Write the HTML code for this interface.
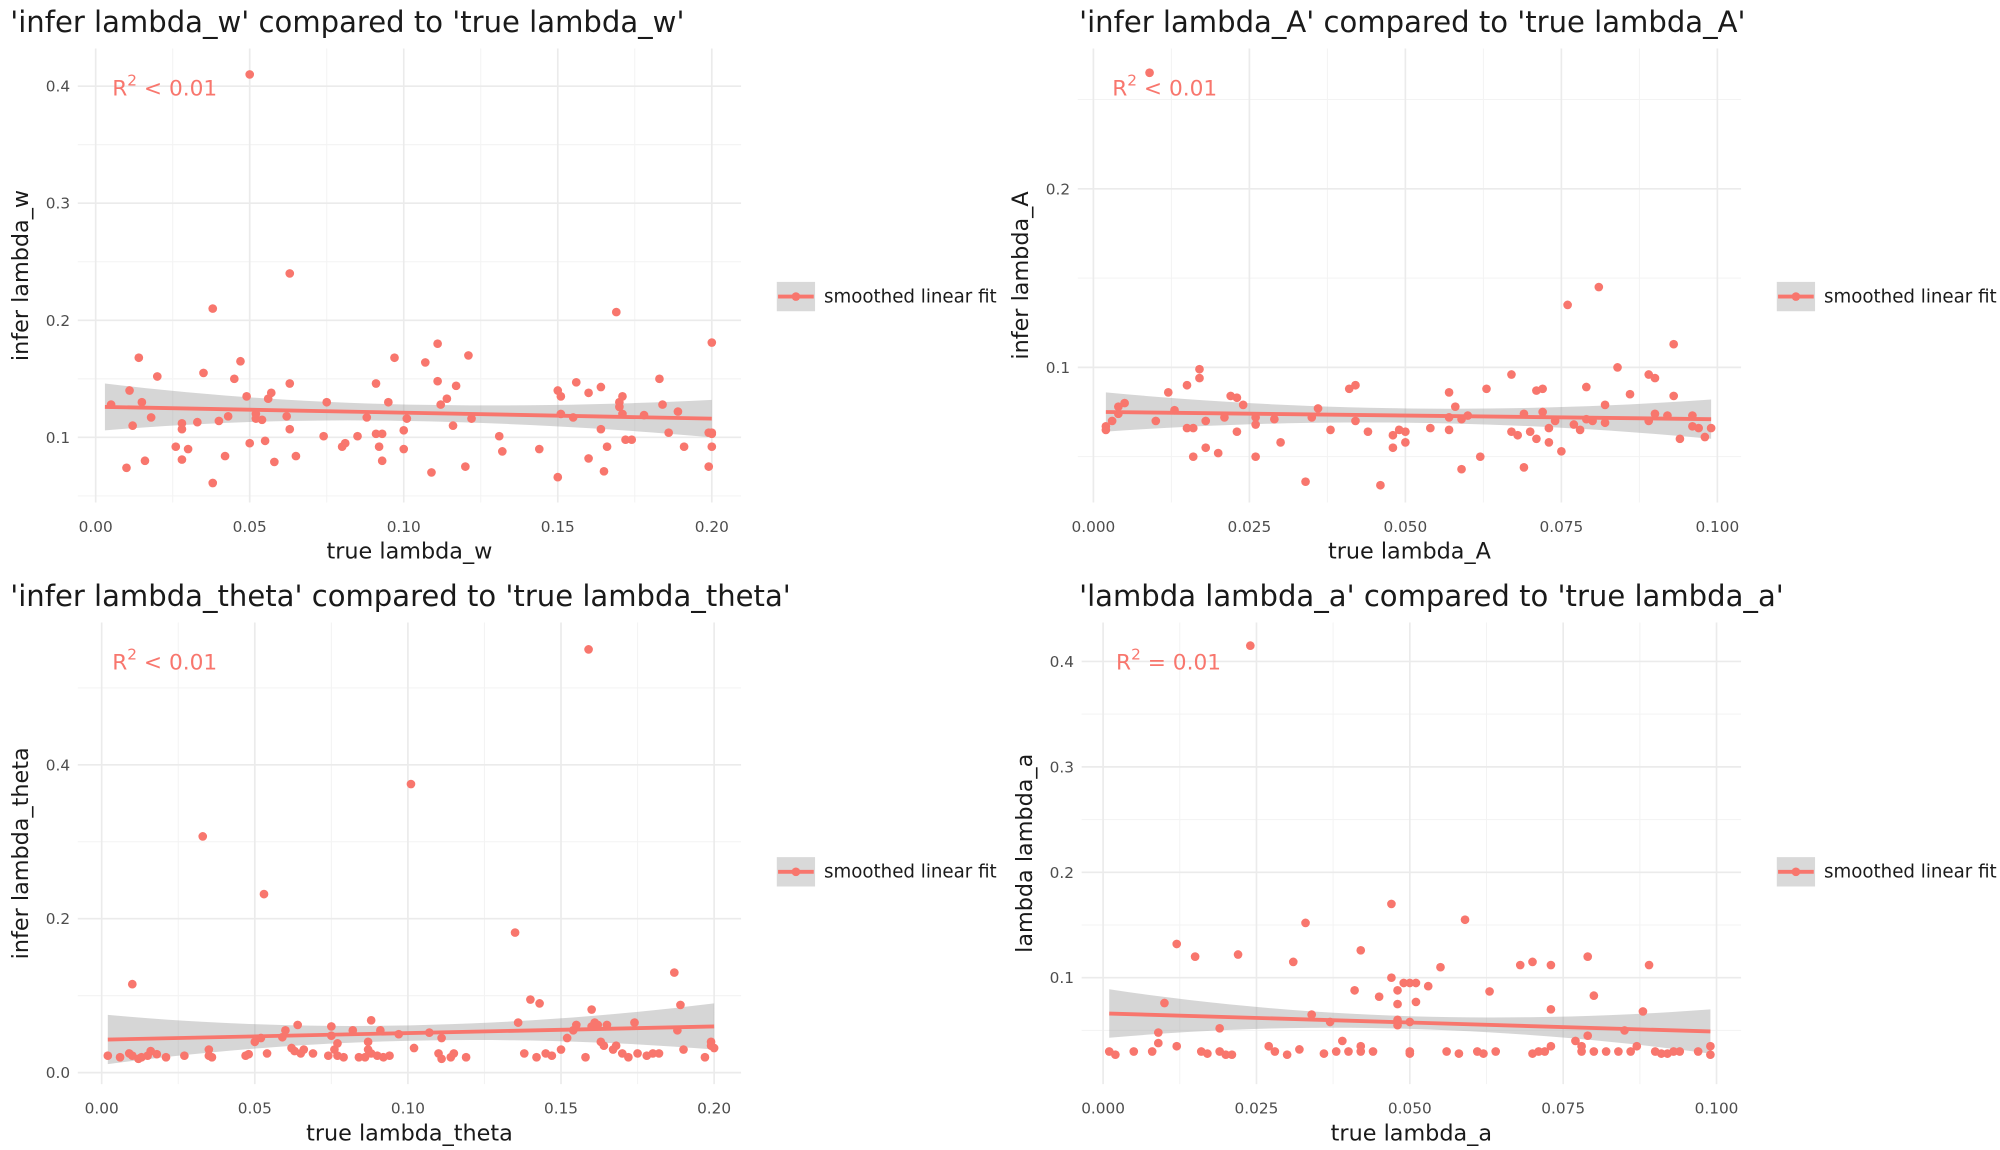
<!DOCTYPE html>
<html><head><meta charset="utf-8"><style>
html,body{margin:0;padding:0;background:#fff;}
svg{display:block;font-family:"DejaVu Sans","Liberation Sans",sans-serif;}
</style></head><body>
<svg id="chart" width="2000" height="1150" viewBox="0 0 1568 901.6" xmlns="http://www.w3.org/2000/svg">
<rect width="1568" height="901.6" fill="#fff"/>
</svg>
<script>
// ---- data ----
const p1x=[0.005,0.011,0.012,0.010,0.014,0.015,0.016,0.018,0.020,0.026,0.028,0.028,0.028,0.030,0.033,0.035,0.038,0.038,0.040,0.042,0.043,0.045,0.047,0.049,0.050,0.050,0.052,0.052,0.054,0.055,0.056,0.057,0.058,0.062,0.063,0.063,0.063,0.065,0.074,0.075,0.080,0.081,0.085,0.088,0.091,0.091,0.092,0.093,0.093,0.095,0.097,0.100,0.100,0.101,0.107,0.109,0.111,0.111,0.112,0.114,0.116,0.117,0.120,0.121,0.122,0.131,0.132,0.144,0.150,0.150,0.151,0.151,0.155,0.156,0.160,0.160,0.164,0.164,0.165,0.166,0.169,0.170,0.170,0.171,0.171,0.172,0.174,0.178,0.183,0.184,0.186,0.189,0.191,0.199,0.200,0.199,0.200,0.200,0.200];
const p1y=[0.128,0.140,0.110,0.074,0.168,0.130,0.080,0.117,0.152,0.092,0.112,0.107,0.081,0.090,0.113,0.155,0.210,0.061,0.114,0.084,0.118,0.150,0.165,0.135,0.095,0.410,0.120,0.116,0.115,0.097,0.133,0.138,0.079,0.118,0.240,0.146,0.107,0.084,0.101,0.130,0.092,0.095,0.101,0.117,0.146,0.103,0.092,0.080,0.103,0.130,0.168,0.090,0.106,0.116,0.164,0.070,0.180,0.148,0.128,0.133,0.110,0.144,0.075,0.170,0.116,0.101,0.088,0.090,0.066,0.140,0.120,0.135,0.117,0.147,0.082,0.138,0.107,0.143,0.071,0.092,0.207,0.126,0.130,0.135,0.120,0.098,0.098,0.119,0.150,0.128,0.104,0.122,0.092,0.104,0.103,0.075,0.092,0.181,0.104];
const p2x=[0.002,0.002,0.003,0.004,0.004,0.005,0.009,0.010,0.012,0.013,0.015,0.015,0.016,0.016,0.017,0.017,0.018,0.018,0.020,0.021,0.022,0.023,0.023,0.024,0.026,0.026,0.026,0.029,0.030,0.034,0.035,0.036,0.038,0.041,0.042,0.042,0.044,0.046,0.048,0.048,0.049,0.050,0.050,0.054,0.057,0.057,0.057,0.058,0.059,0.059,0.060,0.062,0.063,0.067,0.067,0.068,0.069,0.069,0.070,0.071,0.071,0.072,0.072,0.073,0.073,0.074,0.075,0.076,0.077,0.078,0.079,0.079,0.080,0.081,0.082,0.082,0.084,0.086,0.089,0.089,0.090,0.090,0.092,0.093,0.093,0.094,0.096,0.096,0.097,0.098,0.099];
const p2y=[0.065,0.067,0.070,0.074,0.078,0.080,0.265,0.070,0.086,0.076,0.090,0.066,0.066,0.050,0.099,0.094,0.070,0.055,0.052,0.072,0.084,0.083,0.064,0.079,0.050,0.068,0.072,0.071,0.058,0.036,0.072,0.077,0.065,0.088,0.090,0.070,0.064,0.034,0.062,0.055,0.065,0.058,0.064,0.066,0.086,0.065,0.072,0.078,0.071,0.043,0.073,0.050,0.088,0.096,0.064,0.062,0.074,0.044,0.064,0.087,0.060,0.075,0.088,0.058,0.066,0.070,0.053,0.135,0.068,0.065,0.089,0.071,0.070,0.145,0.079,0.069,0.100,0.085,0.070,0.096,0.094,0.074,0.073,0.113,0.084,0.060,0.073,0.067,0.066,0.061,0.066];
const p3x=[0.002,0.006,0.009,0.010,0.010,0.012,0.013,0.015,0.016,0.018,0.021,0.027,0.033,0.035,0.035,0.036,0.047,0.048,0.050,0.052,0.053,0.054,0.059,0.060,0.062,0.063,0.064,0.065,0.066,0.069,0.074,0.075,0.075,0.076,0.077,0.077,0.079,0.082,0.084,0.086,0.087,0.087,0.088,0.088,0.090,0.091,0.092,0.094,0.097,0.101,0.102,0.107,0.110,0.111,0.111,0.114,0.115,0.119,0.135,0.136,0.138,0.140,0.142,0.143,0.145,0.147,0.150,0.152,0.154,0.155,0.158,0.159,0.160,0.160,0.161,0.162,0.163,0.164,0.165,0.167,0.168,0.170,0.172,0.174,0.175,0.178,0.180,0.182,0.187,0.188,0.189,0.190,0.197,0.199,0.199,0.200];
const p3y=[0.022,0.020,0.025,0.115,0.022,0.018,0.020,0.022,0.028,0.024,0.020,0.022,0.307,0.030,0.022,0.020,0.022,0.024,0.040,0.045,0.232,0.025,0.046,0.055,0.032,0.028,0.062,0.025,0.030,0.025,0.022,0.060,0.048,0.030,0.038,0.022,0.020,0.055,0.020,0.020,0.040,0.030,0.068,0.025,0.022,0.055,0.020,0.022,0.050,0.375,0.032,0.052,0.025,0.045,0.018,0.020,0.025,0.020,0.182,0.065,0.025,0.095,0.020,0.090,0.025,0.022,0.030,0.045,0.055,0.062,0.020,0.550,0.082,0.060,0.065,0.062,0.040,0.035,0.062,0.030,0.035,0.025,0.020,0.065,0.025,0.022,0.025,0.025,0.130,0.055,0.088,0.030,0.020,0.040,0.035,0.032];
const p4x=[0.001,0.002,0.005,0.008,0.009,0.009,0.010,0.012,0.012,0.015,0.016,0.017,0.019,0.019,0.020,0.021,0.022,0.024,0.027,0.028,0.030,0.031,0.032,0.033,0.034,0.036,0.037,0.038,0.039,0.040,0.041,0.042,0.042,0.042,0.044,0.045,0.047,0.047,0.048,0.048,0.048,0.048,0.049,0.050,0.050,0.050,0.050,0.051,0.051,0.053,0.055,0.056,0.058,0.059,0.061,0.062,0.063,0.064,0.068,0.070,0.070,0.071,0.072,0.073,0.073,0.073,0.077,0.078,0.078,0.079,0.079,0.080,0.080,0.082,0.084,0.085,0.086,0.087,0.088,0.089,0.090,0.091,0.092,0.093,0.094,0.097,0.099,0.099];
const p4y=[0.030,0.027,0.030,0.030,0.048,0.038,0.076,0.132,0.035,0.120,0.030,0.028,0.030,0.052,0.027,0.027,0.122,0.415,0.035,0.030,0.027,0.115,0.032,0.152,0.065,0.028,0.058,0.030,0.040,0.030,0.088,0.035,0.030,0.126,0.030,0.082,0.170,0.100,0.055,0.060,0.075,0.088,0.095,0.028,0.030,0.095,0.058,0.095,0.077,0.092,0.110,0.030,0.028,0.155,0.030,0.028,0.087,0.030,0.112,0.115,0.028,0.030,0.030,0.070,0.035,0.112,0.040,0.030,0.035,0.120,0.045,0.083,0.030,0.030,0.030,0.050,0.030,0.035,0.068,0.112,0.030,0.028,0.028,0.030,0.030,0.030,0.027,0.035];
const p1fit=[0.126,0.116], p1band=[0.020,0.007,0.016];
const p2fit=[0.075,0.071], p2band=[0.011,0.004,0.011];
const p3fit=[0.043,0.060], p3band=[0.032,0.010,0.030];
const p4fit=[0.066,0.049], p4band=[0.023,0.006,0.021];
const p1xt=[0,0.05,0.10,0.15,0.20], p1xl=["0.00","0.05","0.10","0.15","0.20"];
const p1yt=[0.1,0.2,0.3,0.4], p1yl=["0.1","0.2","0.3","0.4"];
const p2xt=[0,0.025,0.05,0.075,0.1], p2xl=["0.000","0.025","0.050","0.075","0.100"];
const p2yt=[0.1,0.2], p2yl=["0.1","0.2"];
const p3xt=p1xt, p3xl=p1xl;
const p3yt=[0,0.2,0.4], p3yl=["0.0","0.2","0.4"];
const p4xt=p2xt, p4xl=p2xl;
const p4yt=[0.1,0.2,0.3,0.4], p4yl=["0.1","0.2","0.3","0.4"];

const NS="http://www.w3.org/2000/svg";
const svg=document.getElementById('chart');
function mk(tag,attrs,parent){const e=document.createElementNS(NS,tag);for(const k in attrs)e.setAttribute(k,attrs[k]);(parent||svg).appendChild(e);return e;}

const panels=[
 {id:'p1',title:"'infer lambda_w' compared to 'true lambda_w'",xt:'true lambda_w',yt:'infer lambda_w',r2:'< 0.01',
  box:[61,38,581,394],xd:[-0.0058,0.2095],yd:[0.0443,0.4322],x:p1x,y:p1y,fit:p1fit,band:p1band,xr:[0.003,0.2],xtk:p1xt,xlb:p1xl,ytk:p1yt,ylb:p1yl,tx:8,ty:25,leg:[609,221]},
 {id:'p2',title:"'infer lambda_A' compared to 'true lambda_A'",xt:'true lambda_A',yt:'infer lambda_A',r2:'< 0.01',
  box:[845,38,1365,394],xd:[-0.0025,0.1038],yd:[0.0243,0.2786],x:p2x,y:p2y,fit:p2fit,band:p2band,xr:[0.002,0.099],xtk:p2xt,xlb:p2xl,ytk:p2yt,ylb:p2yl,tx:846,ty:25,leg:[1393,221]},
 {id:'p3',title:"'infer lambda_theta' compared to 'true lambda_theta'",xt:'true lambda_theta',yt:'infer lambda_theta',r2:'< 0.01',
  box:[61,488,581,850],xd:[-0.0078,0.2088],yd:[-0.0150,0.5850],x:p3x,y:p3y,fit:p3fit,band:p3band,xr:[0.002,0.2],xtk:p3xt,xlb:p3xl,ytk:p3yt,ylb:p3yl,tx:8,ty:475,leg:[609,672]},
 {id:'p4',title:"'lambda lambda_a' compared to 'true lambda_a'",xt:'true lambda_a',yt:'lambda lambda_a',r2:'= 0.01',
  box:[848,488,1365,850],xd:[-0.0035,0.1040],yd:[-0.0010,0.4370],x:p4x,y:p4y,fit:p4fit,band:p4band,xr:[0.001,0.099],xtk:p4xt,xlb:p4xl,ytk:p4yt,ylb:p4yl,tx:846,ty:475,leg:[1393,672]}
];

panels.forEach(P=>{
 const [L,T,R,B]=P.box;
 const sx=v=>L+(v-P.xd[0])/(P.xd[1]-P.xd[0])*(R-L);
 const sy=v=>B-(v-P.yd[0])/(P.yd[1]-P.yd[0])*(B-T);
 const g=mk('g',{});
 
 
 const t=mk('text',{x:P.tx,y:P.ty,'font-size':22.8,fill:'#1a1a1a'},g);t.textContent=P.title;
 
 
 const xs=P.xtk[1]-P.xtk[0], ys=P.ytk[1]-P.ytk[0];
 for(let v=P.xtk[0]-xs/2;v<=P.xd[1];v+=xs){if(v>=P.xd[0]){const px=sx(v);mk('line',{x1:px,x2:px,y1:T,y2:B,stroke:'#f3f3f3','stroke-width':0.8},g);}}
 for(let v=P.ytk[0]-ys/2;v<=P.yd[1];v+=ys){if(v>=P.yd[0]){const py=sy(v);mk('line',{x1:L,x2:R,y1:py,y2:py,stroke:'#f3f3f3','stroke-width':0.8},g);}}
 P.xtk.forEach((v,i)=>{const px=sx(v);mk('line',{x1:px,x2:px,y1:T,y2:B,stroke:'#ebebeb','stroke-width':1.3},g);
  const lb=mk('text',{x:px,y:B+23,'font-size':12,fill:'#4d4d4d','text-anchor':'middle'},g);lb.textContent=P.xlb[i];
  
  });
 P.ytk.forEach((v,i)=>{const py=sy(v);mk('line',{x1:L,x2:R,y1:py,y2:py,stroke:'#ebebeb','stroke-width':1.3},g);
  const lb=mk('text',{x:L-6,y:py+4.3,'font-size':12,fill:'#4d4d4d','text-anchor':'end'},g);lb.textContent=P.ylb[i];
  
  });
 const xa=mk('text',{x:(L+R)/2,y:B+44,'font-size':17.5,fill:'#1a1a1a','text-anchor':'middle'},g);xa.textContent=P.xt;
 
 
 const ya=mk('text',{x:0,y:0,'font-size':17.5,fill:'#1a1a1a','text-anchor':'middle',transform:`translate(${L-39},${(T+B)/2}) rotate(-90)`},g);ya.textContent=P.yt;
 
 
 const x0=P.xr[0],x1=P.xr[1],N=30,up=[],lo=[];
 for(let i=0;i<=N;i++){const xv=x0+(x1-x0)*i/N;const f=P.fit[0]+(P.fit[1]-P.fit[0])*i/N;
  const u=(i/N-0.5)*2;const hw=u<0?P.band[1]+(P.band[0]-P.band[1])*u*u:P.band[1]+(P.band[2]-P.band[1])*u*u;
  up.push(sx(xv)+','+sy(f+hw));lo.unshift(sx(xv)+','+sy(f-hw));}
 const band=mk('polygon',{points:up.concat(lo).join(' '),fill:'#999999','fill-opacity':0.4},g);
 
 
 P.x.forEach((v,i)=>{const c=mk('circle',{cx:sx(v),cy:sy(P.y[i]),r:3.4,fill:'#F8766D'},g);
  
  });
 const fl=mk('line',{x1:sx(x0),y1:sy(P.fit[0]),x2:sx(x1),y2:sy(P.fit[1]),stroke:'#F8766D','stroke-width':3},g);
 
 
 const r=mk('text',{x:L+27,y:T+37,'font-size':17,fill:'#F8766D'},g);
 r.innerHTML='R<tspan dy="-8" font-size="12">2</tspan><tspan dy="8"> '+P.r2+'</tspan>';
 
 
 const [lx,ly]=P.leg;const lg=mk('g',{},g);
 
 
 mk('rect',{x:lx,y:ly,width:30,height:23,fill:'#d9d9d9'},lg);
 mk('line',{x1:lx+1,x2:lx+29,y1:ly+11.5,y2:ly+11.5,stroke:'#F8766D','stroke-width':3},lg);
 mk('circle',{cx:lx+15,cy:ly+11.5,r:3.4,fill:'#F8766D'},lg);
 const lt=mk('text',{x:lx+37,y:ly+16,'font-size':14.3,fill:'#1a1a1a'},lg);lt.textContent='smoothed linear fit';
});
</script>
</body></html>
